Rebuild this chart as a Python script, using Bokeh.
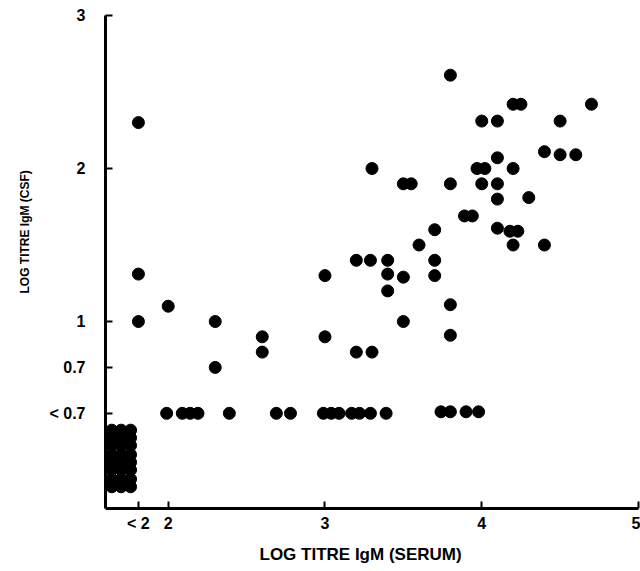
from bokeh.plotting import figure
from bokeh.models import FixedTicker, Range1d, Title
from bokeh.embed import file_html
from bokeh.resources import INLINE

# Detectable titres: log titre IgM in serum (x) vs CSF (y)
serum_log = [1.81, 1.81, 1.81, 2.00, 2.30, 2.30, 2.60, 2.60,
             1.99, 2.09, 2.14, 2.19, 2.39, 2.69, 2.78, 2.99, 3.04, 3.09,
             3.17, 3.22, 3.29, 3.39, 3.74, 3.80, 3.90, 3.98,
             3.60, 4.20, 3.20, 3.29, 3.40, 3.70, 3.00, 3.40, 3.50, 3.70,
             3.40, 3.80, 3.50, 3.00, 3.80, 3.20, 3.30,
             3.80, 4.20, 4.25, 4.70, 4.00, 4.10, 4.50, 4.40, 4.50, 4.60,
             4.10, 3.97, 4.02, 4.20, 3.30, 3.50, 3.55, 3.80, 4.00, 4.10,
             4.10, 4.30, 3.89, 3.94, 3.70, 4.10, 4.18, 4.23, 4.40]
csf_log = [2.30, 1.31, 1.00, 1.10, 1.00, 0.70, 0.90, 0.80,
           0.40, 0.40, 0.40, 0.40, 0.40, 0.40, 0.40, 0.40, 0.40, 0.40,
           0.40, 0.40, 0.40, 0.40, 0.41, 0.41, 0.41, 0.41,
           1.50, 1.50, 1.40, 1.40, 1.40, 1.40, 1.30, 1.31, 1.29, 1.30,
           1.20, 1.11, 1.00, 0.90, 0.91, 0.80, 0.80,
           2.61, 2.42, 2.42, 2.42, 2.31, 2.31, 2.31, 2.11, 2.09, 2.09,
           2.07, 2.00, 2.00, 2.00, 2.00, 1.90, 1.90, 1.90, 1.90, 1.90,
           1.80, 1.81, 1.69, 1.69, 1.60, 1.61, 1.59, 1.59, 1.50]

# Block of cases below detection in both serum and CSF
undetect_cols = [1.64, 1.70, 1.76]
undetect_rows = [0.29, 0.24, 0.19, 0.13, 0.08, 0.03, -0.03, -0.08]

x_ticks = [1.81, 2, 3, 4, 5]
x_tick_labels = ["< 2", "2", "3", "4", "5"]
y_ticks = [0.4, 0.7, 1, 2, 3]
y_tick_labels = ["< 0.7", "0.7", "1", "2", "3"]

ux = [c for r in undetect_rows for c in undetect_cols]
uy = [r for r in undetect_rows for c in undetect_cols]

p = figure(width=640, height=571, output_backend="svg", toolbar_location=None,
           x_range=Range1d(1.6, 5.0), y_range=Range1d(-0.222, 3.0),
           min_border_left=104, min_border_right=2, min_border_top=15,
           min_border_bottom=63, outline_line_color=None)
p.xgrid.visible = False
p.ygrid.visible = False

p.scatter(serum_log, csf_log, size=12, color="black")
p.scatter(ux, uy, size=12, color="black")

font = "Liberation Sans"
for ax, ticks, labels in ((p.xaxis[0], x_ticks, x_tick_labels), (p.yaxis[0], y_ticks, y_tick_labels)):
    ax.ticker = FixedTicker(ticks=ticks)
    ax.major_label_overrides = {t: l for t, l in zip(ticks, labels)}
    ax.minor_tick_line_color = None
    ax.axis_line_width = 3
    ax.major_tick_line_width = 2
    ax.major_tick_in = 7
    ax.major_tick_out = 0
    ax.major_label_text_font = font
    ax.major_label_text_font_style = "bold"
    ax.major_label_text_font_size = "16px"
    ax.major_label_text_color = "black"

p.xaxis[0].major_label_standoff = 6
p.yaxis[0].major_label_standoff = 20

p.add_layout(Title(text="LOG TITRE IgM (SERUM)", align="left", offset=154,
                   standoff=16, text_font=font, text_font_style="bold",
                   text_font_size="17px", text_color="black"), "below")
p.add_layout(Title(text="LOG TITRE IgM (CSF)", align="left", offset=215,
                   standoff=30, text_font=font, text_font_style="bold",
                   text_font_size="12px", text_color="black"), "left")

open("out.html", "w").write(file_html(p, INLINE))
